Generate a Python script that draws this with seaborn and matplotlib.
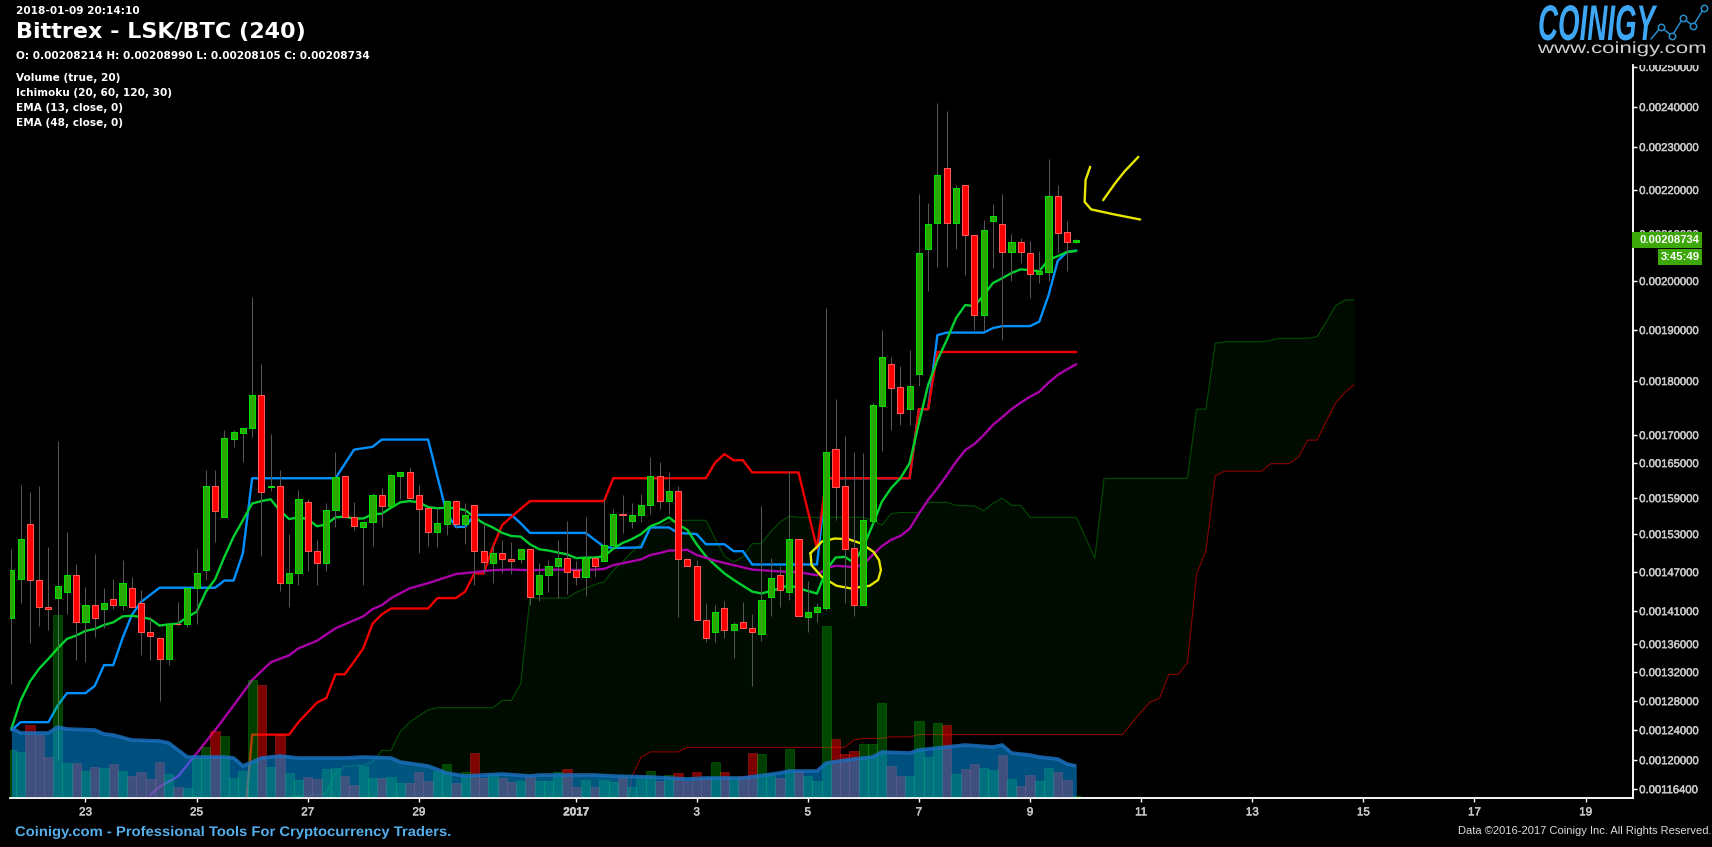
import numpy as np
import pandas as pd
import matplotlib
matplotlib.use("Agg")
import matplotlib.pyplot as plt
import matplotlib.patheffects as pe
from matplotlib.lines import Line2D
from matplotlib.patches import Rectangle
from matplotlib.transforms import Affine2D, Bbox, TransformedBbox
import seaborn as sns

W, H = 1712, 847

# prices are in units of 0.00001 BTC, one row per 4h candle
opens = [140.0,146.0,154.6,145.8,141.7,143.0,144.0,146.5,139.3,142.0,141.3,142.8,141.9,144.6,142.3,137.9,136.9,133.9,139.1,139.0,
         144.6,147.3,161.0,155.9,169.3,170.4,171.3,177.5,160.9,161.0,145.3,146.8,158.3,150.3,148.5,157.0,162.8,155.9,154.2,155.0,
         159.6,157.7,162.8,163.4,159.5,157.3,153.4,154.7,158.5,154.7,157.8,150.3,148.5,150.0,149.0,149.0,150.6,143.6,146.5,148.0,
         149.2,147.3,146.2,149.2,148.8,151.2,156.3,155.2,156.1,157.8,162.8,158.5,160.3,149.0,148.0,139.7,137.9,141.5,138.2,139.3,
         138.5,137.6,143.1,146.6,143.9,152.2,140.1,140.9,141.5,167.5,161.1,150.8,141.9,155.2,175.4,183.3,178.9,174.8,181.4,206.8,
         212.5,225.1,212.5,221.2,209.8,193.1,213.0,212.3,206.2,208.3,206.0,201.5,201.9,218.6,210.5,208.214]
highs = [150.7,161.2,160.0,161.0,151.0,168.9,153.4,148.2,144.7,149.9,144.5,145.9,148.9,146.2,144.2,140.1,136.9,139.4,142.4,144.6,
         150.6,163.8,163.8,170.9,170.9,171.4,196.7,183.3,170.2,163.8,153.0,160.4,158.9,152.1,158.1,166.9,162.8,158.4,155.0,159.8,
         160.7,162.9,163.4,164.3,161.2,157.3,157.4,158.5,158.7,158.1,157.8,154.8,151.5,152.1,151.8,150.6,150.6,148.4,148.9,152.1,
         155.2,148.8,155.9,149.3,158.9,157.1,159.5,158.1,159.7,166.0,165.2,163.4,161.0,149.0,148.9,142.2,141.9,142.5,139.4,142.4,
         140.6,157.7,149.2,147.9,163.6,152.2,145.6,142.3,194.5,176.7,169.8,167.0,166.8,175.9,190.0,184.7,183.0,186.1,219.1,217.0,
         241.0,239.0,221.2,221.2,209.8,213.2,216.8,219.1,210.0,209.1,208.5,206.4,227.2,221.2,213.0,208.99]
lows = [130.4,142.2,136.1,138.8,138.1,120.0,140.5,133.7,133.5,137.1,138.4,141.4,141.2,141.6,134.4,133.7,128.0,133.0,138.7,138.6,
        139.1,145.8,151.8,155.9,167.9,165.2,169.7,149.5,160.2,144.1,141.6,145.0,147.2,145.0,147.1,154.1,155.9,153.7,145.0,151.1,
        154.2,157.7,158.8,158.9,150.0,151.1,151.0,152.8,154.0,151.4,145.0,146.8,145.3,146.9,146.7,148.5,141.9,142.6,144.0,143.0,
        143.7,145.0,143.4,146.3,148.8,151.0,153.1,154.0,155.0,156.4,157.2,156.4,140.1,148.0,139.6,136.3,136.3,137.0,134.0,138.4,
        130.1,136.5,140.2,141.6,142.7,140.3,137.9,139.4,141.2,155.3,142.2,140.2,141.9,154.8,167.1,170.9,171.9,171.9,179.1,198.0,
        203.0,203.0,206.8,201.3,190.0,189.8,202.8,188.0,200.0,203.8,196.5,199.6,200.0,206.0,202.1,208.105]
closes = [147.3,152.3,145.8,141.7,141.4,144.9,146.6,139.3,142.0,140.0,142.3,141.9,145.3,141.7,137.9,137.3,133.9,139.1,139.0,144.6,
          146.8,161.0,156.8,169.4,170.5,171.4,177.5,160.1,161.0,145.3,146.8,158.9,150.3,148.5,157.0,162.6,155.9,154.4,155.0,159.6,
          157.7,162.9,163.4,159.1,157.2,153.4,154.8,158.5,154.7,156.1,150.3,148.6,150.0,149.0,148.7,150.6,143.1,146.5,148.0,149.2,
          147.0,146.2,149.3,148.0,151.2,156.3,156.1,156.1,157.8,162.8,158.5,160.3,149.0,148.0,139.6,136.9,140.9,138.2,139.0,138.5,
          137.8,142.7,146.1,144.2,152.2,140.3,140.8,141.6,167.0,160.9,150.6,141.9,155.3,175.6,184.7,178.7,174.1,179.1,206.0,212.3,
          223.5,212.5,220.5,209.8,193.1,210.9,214.1,206.2,208.3,206.2,201.5,202.1,218.6,210.2,208.2,208.734]
volumes = [47,45,72,62,40,182,34,34,26,30,29,33,26,21,25,18,35,23,10,9,
           39,50,66,61,19,26,117,112,30,62,24,17,20,18,28,29,21,12,31,19,
           19,20,14,14,25,16,26,33,14,25,44,19,23,19,15,16,21,16,16,25,
           28,10,17,10,17,15,19,10,21,26,16,22,24,16,25,19,35,25,20,21,
           44,43,23,19,48,26,21,16,171,58,43,46,53,53,94,31,21,21,76,40,
           74,72,23,28,33,29,27,42,18,11,22,16,29,25,17,1]

vol_ma_x = [0,1,4,5,6,9,10,11,13,16,17,19,23,24,25,27,29,31,34,36,38,41,42,45,47,49,53,56,57,63,65,69,73,75,79,83,84,87,88,91,93,94,97,98,101,103,106,107,108,110,111,113,114,115]
vol_ma_y = [69,64,64,70,68,67,63,62,57,56,54,40,40,39,31,39,41,39,39,39,40,39,35,31,24,21,23,21,22,22,21,20,18,19,19,24,26,26,34,38,40,45,44,47,50,52,50,52,44,42,40,38,33,31]

ema13 = [124.2,128.1,130.7,132.5,133.9,135.4,136.8,137.3,138.0,138.3,138.9,139.3,140.2,140.3,140.1,139.8,138.8,139.0,139.1,140.1,
         140.9,144.0,145.9,149.4,152.6,155.3,158.1,158.5,158.8,156.9,155.5,155.8,155.5,154.3,154.6,155.8,155.9,155.6,155.6,156.3,
         156.4,157.4,158.3,158.5,158.3,157.5,157.3,157.4,157.3,157.0,155.8,154.8,154.1,153.2,152.7,152.6,151.4,150.6,150.4,150.1,
         149.8,149.2,149.3,149.3,149.5,150.7,151.6,152.2,153.0,154.3,154.9,155.8,154.6,153.7,151.4,149.5,148.1,146.8,145.8,144.9,
         144.0,143.7,144.1,144.5,145.0,144.5,144.1,143.7,147.3,149.3,149.4,148.5,151.0,154.5,158.4,160.7,162.4,165.0,172.2,179.3,
         184.1,188.0,192.4,195.1,194.9,197.1,199.6,200.6,201.7,202.5,202.3,202.1,204.5,205.3,206.2,206.4]

ema48_x = [15,16,18,20,22,24,26,28,30,31,33,35,37,38,39,40,41,43,45,48,50,52,54,56,59,62,64,65,68,69,70,71,73,74,76,78,80,83,85,87,88,89,91,92,93,94,95,96,97,98,99,100,101,102,103,104,105,106,107,108,109,110,111,112,113,114,115]
ema48_y = [115.7,116.7,118.0,120.9,124.0,127.4,130.9,133.4,134.4,135.4,136.5,138.4,139.6,140.2,141.3,141.9,143.0,144.5,145.3,146.7,147.0,147.3,147.4,147.3,147.4,147.3,147.5,148.1,149.0,149.7,150.0,150.4,150.5,149.7,148.8,148.1,147.4,147.1,147.0,146.5,147.6,148.0,147.8,148.2,149.7,151.1,152.1,152.7,153.9,156.4,158.7,160.7,162.9,165.2,167.3,168.4,170.0,171.9,173.3,174.8,176.0,177.1,178.0,179.7,181.2,182.3,183.3]

tenkan_x = [0,1,4,5,6,8,9,10,11,12,13,14,16,22,23,24,25,26,35,37,39,40,45,47,48,49,50,54,55,56,62,64,65,68,69,71,72,74,75,77,78,79,80,87,88,97,98,99,100,101,105,106,107,110,111,112,113,114,115]
tenkan_y = [124.0,125.1,125.1,127.4,129.1,129.1,130.1,133.0,133.0,136.9,140.4,142.4,144.6,144.6,145.7,145.7,150.0,162.4,162.4,167.4,167.9,169.2,169.2,156.5,154.2,154.2,156.2,156.2,154.8,153.2,153.2,151.0,150.8,150.9,154.1,154.1,153.2,153.0,151.4,151.4,150.3,150.3,148.2,148.2,162.4,162.4,174.8,174.8,189.0,189.5,189.5,190.4,190.8,190.8,191.7,197.1,204.3,206.2,206.5]

kijun_x = [25,26,30,31,33,34,35,36,37,38,39,40,41,45,46,48,49,50,51,52,53,54,56,64,65,75,76,77,78,79,80,85,87,88,97,98,99,100,115]
kijun_y = [110.0,123.4,123.4,125.1,127.8,128.4,131.7,131.7,133.5,135.4,139.1,140.5,141.4,141.4,143.0,143.0,144.0,146.8,146.8,151.0,154.5,155.9,158.5,158.5,162.4,162.4,165.1,166.6,165.5,165.5,163.4,163.4,150.7,162.4,162.4,174.8,174.8,185.7,185.7]

span_a_x = [29,30,34,35,36,38,39,40,41,42,43,45,46,52,53,54,55,56,60,61,62,63,64,65,66,67,68,69,70,71,72,75,76,77,78,79,80,81,82,83,84,85,92,93,94,95,96,98,99,101,102,104,105,106,107,108,109,110,115,117,118,127,128,129,130,131,135,136,137,140,141,142,143,144,145]
span_a_y = [110.0,115.4,115.9,118.4,119.2,119.4,119.8,121.3,121.3,123.8,125.1,126.8,127.1,127.1,128.1,128.1,130.4,143.0,143.0,143.9,144.5,145.1,145.5,147.3,148.6,150.2,151.5,154.2,154.3,155.0,155.3,155.3,152.3,149.5,148.6,149.4,151.5,151.5,153.4,155.0,156.0,155.8,155.8,155.3,154.5,156.4,156.6,156.6,158.3,158.3,157.8,157.7,156.9,158.1,159.0,157.8,157.8,155.8,155.8,149.2,162.4,162.4,174.8,174.8,187.4,187.7,187.7,188.0,188.4,188.4,188.7,191.7,195.0,196.1,196.2]
span_b_x = [29,66,67,68,69,72,73,90,91,92,94,95,97,98,120,121,122,123,124,125,126,127,128,129,130,131,135,136,138,139,140,141,142,143,144,145]
span_b_y = [110.0,110.0,117.9,120.4,121.1,121.1,121.7,121.7,122.7,122.9,122.9,123.1,123.1,123.4,123.4,125.0,126.5,127.9,128.4,131.7,131.7,133.3,146.7,150.4,162.8,163.6,163.6,164.9,164.9,166.1,169.1,169.1,172.6,175.9,177.9,179.3]

# hand drawn marks on the chart
circle_x = [86.3,87.0,87.5,88.9,90.4,91.8,93.1,93.7,93.9,93.6,92.7,90.6,89.1,87.5,86.4,86.3]
circle_y = [150.0,151.0,151.8,152.3,152.2,151.5,150.2,148.9,147.3,145.8,144.9,144.5,144.9,146.3,148.1,150.0]
arc_x = [116.5,116.0,115.9,116.6,119.0,121.9]
arc_y = [225.4,222.3,217.3,215.6,214.5,213.3]
stroke_x = [117.9,119.2,120.2,121.7]
stroke_y = [217.7,221.6,224.3,227.7]

y_ticks = [250,240,230,220,210,200,190,180,170,165,159,153,147,141,136,132,128,124,120,116.4]
y_tick_rows = [67,107,147,190,234,281,330,381,435,463,498,534,572,611,644,672,701,730,760,789]
x_tick_pos = [8,20,32,44,61,74,86,98,110,122,134,146,158,170]
x_tick_labels = ["23","25","27","29","2017","3","5","7","9","11","13","15","17","19"]

indicators = ["Volume (true, 20)", "Ichimoku (20, 60, 120, 30)", "EMA (13, close, 0)", "EMA (48, close, 0)"]


class Stretch(pe.AbstractPathEffect):
    # the logo lettering is condensed, no installed font has that shape
    def __init__(self, sx, sy):
        super().__init__()
        self.sx, self.sy = sx, sy

    def draw_path(self, renderer, gc, tpath, affine, rgbFace=None):
        renderer.draw_path(gc, tpath, Affine2D().scale(self.sx, self.sy) + affine, rgbFace)


# the price axis spacing follows the tick rows of the original chart
scale_p = np.array([100.0] + y_ticks[::-1] + [300.0])
scale_r = -np.array([921.0] + y_tick_rows[::-1] + [-133.0])


def to_axis(v):
    return np.interp(v, scale_p, scale_r)


def from_axis(v):
    return np.interp(v, scale_r, scale_p)


sns.set_theme(style="dark", rc={"figure.facecolor": "black", "axes.facecolor": "black"})
plt.rcParams["font.family"] = ["Liberation Sans", "DejaVu Sans"]

fig = plt.figure(figsize=(W / 100, H / 100), dpi=100)
left, right, top, bottom = 10, 1633, 65, 798
ax = fig.add_axes([left / W, 1 - bottom / H, (right - left) / W, (bottom - top) / H])
ax.set_yscale("function", functions=(to_axis, from_axis))
ax.set_xlim(-0.151, 175.12)
ax.set_ylim(115.3, 250.5)

# cloud
ax.fill(span_a_x + span_b_x[::-1], span_a_y + span_b_y[::-1], color="#00ff00", alpha=0.05, lw=0, zorder=1)
sns.lineplot(x=span_a_x, y=span_a_y, ax=ax, color="#004d00", lw=0.8, estimator=None, zorder=2)
sns.lineplot(x=span_b_x, y=span_b_y, ax=ax, color="#8a0000", lw=0.8, estimator=None, zorder=2)

# indicators
sns.lineplot(x=tenkan_x, y=tenkan_y, ax=ax, color="#0090ff", lw=1.7, estimator=None, zorder=3)
sns.lineplot(x=kijun_x, y=kijun_y, ax=ax, color="#f00000", lw=1.7, estimator=None, zorder=3.1)
sns.lineplot(x=list(range(len(ema13))), y=ema13, ax=ax, color="#00d030", lw=1.7, estimator=None, zorder=3.2)
sns.lineplot(x=ema48_x, y=ema48_y, ax=ax, color="#aa00aa", lw=1.7, estimator=None, zorder=3.3)

for xs, ys in [(circle_x, circle_y), (arc_x, arc_y), (stroke_x, stroke_y)]:
    ax.plot(xs, ys, color="#e6e600", lw=1.7, zorder=3.5)

# candles
df = pd.DataFrame({"open": opens, "high": highs, "low": lows, "close": closes, "volume": volumes})
df["x"] = df.index
df["up"] = df["close"] >= df["open"]
ax.vlines(df["x"], df["low"], df["high"], color="#555555", lw=0.75, zorder=4)
for up, group in df.groupby("up"):
    ax.bar(group["x"], (group["close"] - group["open"]).abs(), bottom=group[["open", "close"]].min(axis=1),
           width=0.66, color="#2aa800" if up else "#ff0000", edgecolor="#00e000" if up else "#ff5a5a",
           lw=0.75, zorder=5)

# volume sits over everything else, the area is see-through
vol_ax = ax.twinx()
vol_ax.set_ylim(-1, 732)
vol_ax.set_zorder(ax.get_zorder() + 1)
vol_ax.patch.set_visible(False)
vol_ax.grid(False)
vol_ax.set_yticks([])
vol_ax.set_ylabel("")
for up, group in df.groupby("up"):
    vol_ax.bar(group["x"], group["volume"], width=1.0,
               color=(0, 1, 0, 0.25) if up else (1, 0, 0, 0.5),
               edgecolor=(0, 0.8, 0, 0.3) if up else (1, 0.2, 0.2, 0.35), lw=0.6)
vol_ax.fill_between(vol_ma_x, 0, vol_ma_y, color=(0, 0.63, 1.0), alpha=0.5, lw=0)
vol_ax.plot(vol_ma_x, vol_ma_y, color="#1a70c0", lw=2.6, alpha=0.85, solid_capstyle="butt")

for a in (ax, vol_ax):
    for side in ("left", "top"):
        a.spines[side].set_visible(False)
    for side in ("bottom", "right"):
        a.spines[side].set_color("white")
        a.spines[side].set_linewidth(1.1)

ax.yaxis.tick_right()
ax.set_yticks(y_ticks)
ax.set_yticklabels([f"{v * 1e-5:.8f}" for v in y_ticks])
ax.minorticks_off()
ax.set_xticks(x_tick_pos)
ax.set_xticklabels(x_tick_labels)
ax.tick_params(axis="y", which="major", right=True, left=False, length=3, width=1, color="white",
               labelcolor="#c8c8c8", labelsize=8.1, pad=1.5)
ax.tick_params(axis="x", which="major", bottom=True, length=3, width=1, color="white",
               labelcolor="#c8c8c8", labelsize=8.4, pad=3)
ax.set_xlabel("")
ax.set_ylabel("")
heavy = [pe.withStroke(linewidth=0.35, foreground="#c8c8c8")]
for lab in ax.get_xticklabels():
    lab.set_path_effects(heavy)
    if lab.get_text() == "2017":
        lab.set_fontweight("bold")
# the top tick label is cut off by the header strip
top_clip = TransformedBbox(Bbox([[0, 0], [1, 1 - top / H]]), fig.transFigure)
for lab in ax.get_yticklabels():
    lab.set_path_effects(heavy)
    lab.set_clip_box(top_clip)
    lab.set_clip_on(True)


def put(x, y, s, **kw):
    return fig.text(x / W, 1 - y / H, s, va="center", zorder=10, **kw)


# header
dv = ["DejaVu Sans"]
put(16, 11, "2018-01-09 20:14:10", family=dv, weight="bold", size=7.6, color="white")
put(16, 32, "Bittrex - LSK/BTC (240)", family=dv, weight="bold", size=16, color="white")
put(16, 56, "O: 0.00208214 H: 0.00208990 L: 0.00208105 C: 0.00208734", family=dv, weight="bold", size=7.6, color="white")
for row, name in zip([78, 93, 108, 123], indicators):
    put(16, row, name, family=dv, weight="bold", size=7.6, color="white")

# last price flags
for x0, y0, x1, y1 in [(1632, 232, 1702, 248), (1658, 249, 1702, 265)]:
    fig.add_artist(Rectangle((x0 / W, 1 - y1 / H), (x1 - x0) / W, (y1 - y0) / H, transform=fig.transFigure,
                             facecolor="#3ca80a", edgecolor="none", zorder=9))
put(1639, 240, "0.00208734", size=8.1, weight="bold", color="white")
put(1661, 257, "3:45:49", size=8.1, weight="bold", color="white")

# logo
logo = fig.text(1538 / W, 1 - 40 / H, "COINIGY", size=24.5, weight="bold", style="italic", color="#3ea6f2", zorder=10)
logo.set_path_effects([Stretch(0.815, 1.47)])
site = fig.text(1538 / W, 1 - 53 / H, "www.coinigy.com", size=11.5, color="#d0d0d0", zorder=10)
site.set_path_effects([Stretch(1.39, 1.0)])
logo_x = [1651, 1661, 1672, 1683, 1693, 1704]
logo_y = [39, 27, 36, 18, 26, 8]
fig.add_artist(Line2D([x / W for x in logo_x[1:]], [1 - y / H for y in logo_y[1:]], transform=fig.transFigure,
                      color="#2a8cc8", lw=1.1, marker="o", ms=4.6, mfc="black", mec="#2a8cc8", mew=1.1, zorder=9))
fig.add_artist(Line2D([x / W for x in logo_x[:2]], [1 - y / H for y in logo_y[:2]], transform=fig.transFigure,
                      color="#2a8cc8", lw=1.1, zorder=8))

# footer
foot = put(15, 832, "Coinigy.com - Professional Tools For Cryptocurrency Traders.", size=10, weight="bold", color="#55aeea")
foot.set_path_effects([Stretch(1.066, 1.0)])
put(1458, 831, "Data ©2016-2017 Coinigy Inc. All Rights Reserved.", size=8, color="#dddddd")

fig.savefig("out.png", dpi=100, facecolor="black")
